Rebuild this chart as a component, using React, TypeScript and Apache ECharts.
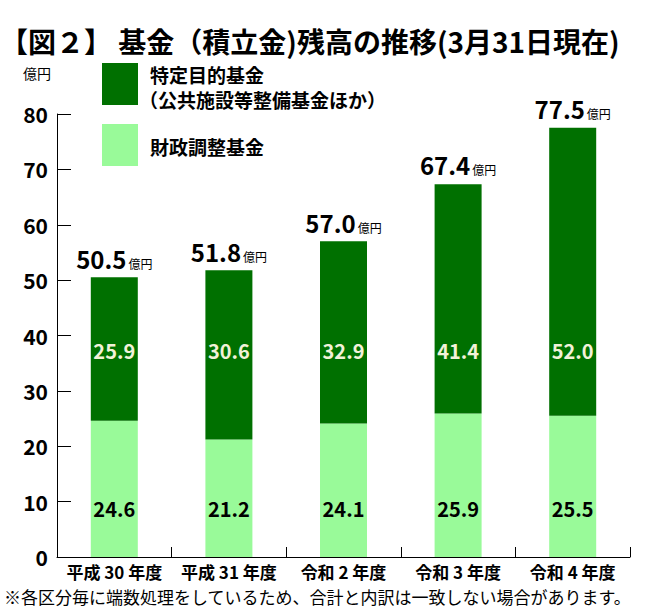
import React, { useEffect, useRef } from "react";
import * as echarts from "echarts";

const categories = ["平成 30 年度", "平成 31 年度", "令和 2 年度", "令和 3 年度", "令和 4 年度"];
const seriesNames = ["特定目的基金", "財政調整基金"];
const legendSubtitle = "（公共施設等整備基金ほか）";
const specificPurposeFund = [25.9, 30.6, 32.9, 41.4, 52.0];
const fiscalAdjustmentFund = [24.6, 21.2, 24.1, 25.9, 25.5];
const totals = [50.5, 51.8, 57.0, 67.4, 77.5];
const yMax = 80;
const yInterval = 10;
const unitLabel = "億円";
const titleText = "【図２】 基金（積立金)残高の推移(3月31日現在)";
const footnoteText = "※各区分毎に端数処理をしているため、合計と内訳は一致しない場合があります。";

const W = 661;
const H = 614;
const GRID = { left: 57, right: 31, top: 114, bottom: 57 };
const DARK = "#007000";
const LIGHT = "#99fa99";
const FONT = '"Noto Sans CJK JP", "Noto Sans", sans-serif';

export default function App() {
  const ref = useRef<HTMLDivElement>(null);
  useEffect(() => {
    if (!ref.current) return;
    const chart = echarts.init(ref.current, null, { renderer: "svg" });
    const baseY = H - GRID.bottom;
    const k = (H - GRID.top - GRID.bottom) / yMax;
    const labelH = 20;
    const darkLabelCenter = 350;
    const lightLabelCenter = 508;

    const txt = (x: number, y: number, text: string, font: string, align = "left") => ({
      type: "text",
      x,
      y,
      silent: true,
      style: {
        text,
        font,
        fill: "#000",
        align,
        verticalAlign: "middle",
        textAlign: align,
        textVerticalAlign: "middle",
      },
    });

    chart.setOption({
      animation: false,
      textStyle: { fontFamily: FONT },
      grid: { ...GRID, containLabel: false },
      xAxis: {
        type: "category",
        data: categories,
        axisLine: { show: true, lineStyle: { color: "#000", width: 1 } },
        axisTick: { show: true, inside: true, length: 10, lineStyle: { color: "#000" } },
        axisLabel: { interval: 0, color: "#000", fontSize: 17, fontWeight: "bold", margin: 6, fontFamily: FONT },
      },
      yAxis: {
        type: "value",
        min: 0,
        max: yMax,
        interval: yInterval,
        axisLine: { show: true, lineStyle: { color: "#000", width: 1 } },
        axisTick: { show: true, inside: true, length: 14, lineStyle: { color: "#000" } },
        splitLine: { show: false },
        axisLabel: { color: "#000", fontSize: 21, fontWeight: "bold", margin: 9, fontFamily: FONT },
      },
      series: [
        {
          name: seriesNames[1],
          type: "bar",
          stack: "fund",
          barWidth: 47,
          barGap: "-100%",
          itemStyle: { color: LIGHT },
          data: fiscalAdjustmentFund,
          label: {
            show: true,
            position: "insideBottom",
            distance: baseY - lightLabelCenter - labelH / 2,
            color: "#000",
            fontSize: 20,
            fontWeight: "bold",
            lineHeight: labelH,
            fontFamily: FONT,
            formatter: (p: any) => Number(p.value).toFixed(1),
          },
        },
        {
          name: seriesNames[0],
          type: "bar",
          stack: "fund",
          barWidth: 47,
          barGap: "-100%",
          itemStyle: { color: DARK },
          data: specificPurposeFund.map((v, i) => ({
            value: v,
            label: {
              distance: baseY - fiscalAdjustmentFund[i] * k - darkLabelCenter - labelH / 2,
            },
          })),
          label: {
            show: true,
            position: "insideBottom",
            color: "#f2f2d8",
            fontSize: 20,
            fontWeight: "bold",
            lineHeight: labelH,
            fontFamily: FONT,
            formatter: (p: any) => Number(p.value).toFixed(1),
          },
        },
        {
          name: "合計",
          type: "bar",
          barWidth: 47,
          barGap: "-100%",
          z: 1,
          silent: true,
          itemStyle: { color: "rgba(0,0,0,0)" },
          data: totals,
          label: {
            show: true,
            position: "top",
            distance: 6,
            formatter: (p: any) => `{n|${Number(p.value).toFixed(1)}}{u|${unitLabel}}`,
            rich: {
              n: { fontSize: 24, fontWeight: "bold", color: "#000", fontFamily: FONT, lineHeight: 26 },
              u: { fontSize: 12, color: "#000", fontFamily: FONT, lineHeight: 14, verticalAlign: "bottom", padding: [0, 0, 2, 2] },
            },
          },
        },
      ],
      graphic: [
        txt(0, 41, titleText, `bold 28px ${FONT}`),
        txt(23, 73, unitLabel, `14px ${FONT}`),
        { type: "rect", shape: { x: 102, y: 63, width: 36, height: 42 }, style: { fill: DARK }, silent: true },
        { type: "rect", shape: { x: 102, y: 124, width: 36, height: 42 }, style: { fill: LIGHT }, silent: true },
        txt(150, 74, seriesNames[0], `bold 19px ${FONT}`),
        txt(139, 99, legendSubtitle, `bold 19px ${FONT}`),
        txt(150, 146, seriesNames[1], `bold 19px ${FONT}`),
        txt(4, 596, footnoteText, `17px ${FONT}`),
      ],
    });
    return () => chart.dispose();
  }, []);
  return <div ref={ref} style={{ position: "absolute", left: 0, top: 0, width: W, height: H }} />;
}
